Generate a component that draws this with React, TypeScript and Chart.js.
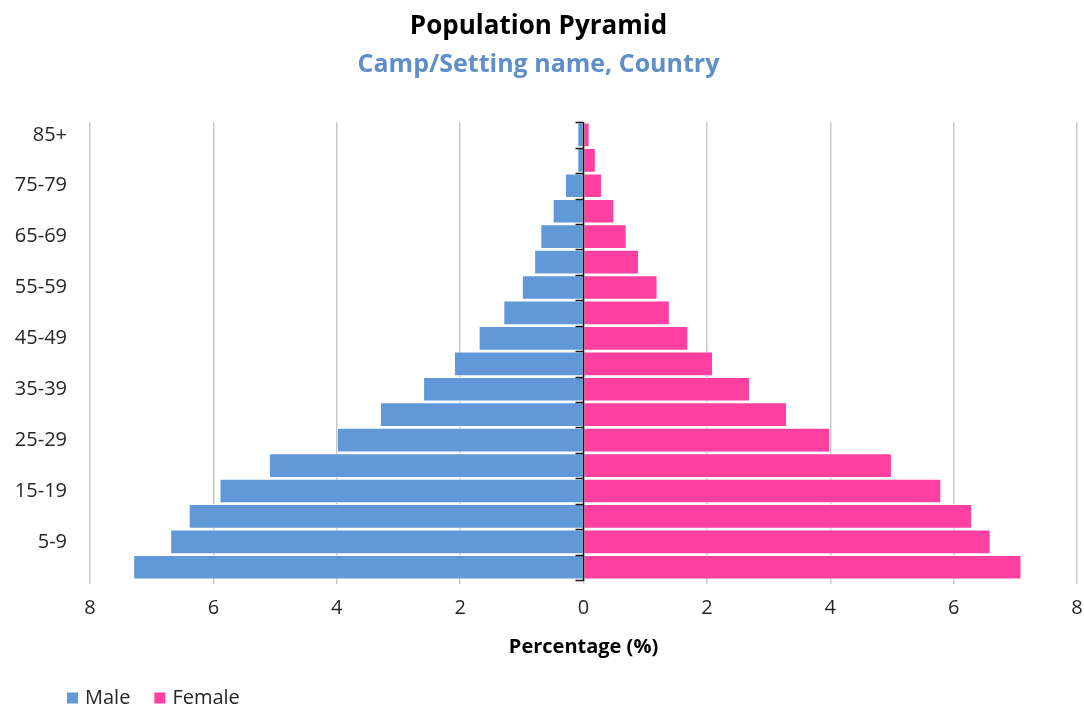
import React, { useEffect, useRef } from "react";
import { Chart, registerables } from "chart.js";

Chart.register(...registerables);

const ageGroups = ["0-4","5-9","10-14","15-19","20-24","25-29","30-34","35-39","40-44","45-49","50-54","55-59","60-64","65-69","70-74","75-79","80-84","85+"];
const maleValues = [7.3, 6.7, 6.4, 5.9, 5.1, 4.0, 3.3, 2.6, 2.1, 1.7, 1.3, 1.0, 0.8, 0.7, 0.5, 0.3, 0.1, 0.1];
const femaleValues = [7.1, 6.6, 6.3, 5.8, 5.0, 4.0, 3.3, 2.7, 2.1, 1.7, 1.4, 1.2, 0.9, 0.7, 0.5, 0.3, 0.2, 0.1];
const xMin = -8;
const xMax = 8;
const xStep = 2;

const FONT = "'Open Sans', 'Noto Sans', sans-serif";
const maleColor = "#6198D8";
const femaleColor = "#FF40A0";

const centerAxisPlugin = {
  id: "centerAxis",
  afterDatasetsDraw(chart: any) {
    const { ctx, chartArea, scales } = chart;
    const x0 = scales.x.getPixelForValue(0);
    const n = ageGroups.length;
    const step = (chartArea.bottom - chartArea.top) / n;
    ctx.save();
    ctx.strokeStyle = "#1a1a1a";
    ctx.lineWidth = 1.5;
    ctx.beginPath();
    ctx.moveTo(x0, chartArea.top);
    ctx.lineTo(x0, chartArea.bottom + 1);
    for (let i = 0; i <= n; i++) {
      const y = Math.round(chartArea.top + i * step) + 0.5;
      ctx.moveTo(x0 - 8, y);
      ctx.lineTo(x0, y);
    }
    ctx.stroke();
    ctx.restore();
  },
};

const bottomLegendPlugin = {
  id: "bottomLegend",
  afterDraw(chart: any) {
    const { ctx } = chart;
    const y = 698;
    let x = 67;
    ctx.save();
    ctx.font = `20px ${FONT}`;
    ctx.textBaseline = "middle";
    ctx.textAlign = "left";
    chart.data.datasets.forEach((ds: any) => {
      ctx.fillStyle = ds.backgroundColor;
      ctx.fillRect(x, y - 5.5, 11, 11);
      x += 11 + 7;
      ctx.fillStyle = "#262626";
      ctx.fillText(ds.label, x, y);
      x += ctx.measureText(ds.label).width + 24;
    });
    ctx.restore();
  },
};

export default function App() {
  const canvasRef = useRef<HTMLCanvasElement | null>(null);

  useEffect(() => {
    if (!canvasRef.current) return;
    const chart = new Chart(canvasRef.current, {
      type: "bar",
      data: {
        labels: ageGroups,
        datasets: [
          {
            label: "Male",
            data: maleValues.map((v) => -v),
            backgroundColor: maleColor,
            borderColor: "rgba(255,255,255,0.75)",
            borderWidth: 1,
            barPercentage: 0.97,
            categoryPercentage: 1,
          },
          {
            label: "Female",
            data: femaleValues,
            backgroundColor: femaleColor,
            borderColor: "rgba(255,255,255,0.75)",
            borderWidth: 1,
            barPercentage: 0.97,
            categoryPercentage: 1,
          },
        ],
      },
      options: {
        indexAxis: "y",
        animation: false,
        responsive: true,
        maintainAspectRatio: false,
        layout: { padding: { left: 0, right: 7, top: 0, bottom: 43 } },
        scales: {
          x: {
            stacked: true,
            min: xMin,
            max: xMax,
            ticks: {
              stepSize: xStep,
              padding: 12,
              color: "#262626",
              font: { family: FONT, size: 20 },
              callback: (v: any) => String(Math.abs(Number(v))),
            },
            grid: {
              color: "#C8C8C8",
              lineWidth: 1.5,
              tickLength: 4,
            },
            border: { display: false },
            title: {
              display: true,
              text: "Percentage (%)",
              color: "#000",
              font: { family: FONT, size: 20, weight: "bold" },
              padding: { top: 4, bottom: 4 },
            },
            afterFit: (scale: any) => {
              scale.height = 83;
              scale.paddingLeft = 0;
              scale.paddingRight = 0;
            },
          },
          y: {
            stacked: true,
            reverse: true,
            grid: { display: false },
            border: { display: false },
            ticks: {
              autoSkip: false,
              padding: 15,
              color: "#262626",
              font: { family: FONT, size: 20 },
              callback: (_v: any, i: number) => (i % 2 === 1 ? ageGroups[i] : ""),
            },
            afterFit: (scale: any) => {
              scale.width = 90;
              scale.paddingTop = 0;
              scale.paddingBottom = 0;
            },
          },
        },
        plugins: {
          title: {
            display: true,
            text: "Population Pyramid",
            color: "#000",
            font: { family: FONT, size: 26, weight: "bold" },
            padding: { top: 11, bottom: 8 },
          },
          subtitle: {
            display: true,
            text: "Camp/Setting name, Country",
            color: "#5F8FC9",
            font: { family: FONT, size: 25, weight: "bold" },
            padding: { top: 0, bottom: 42 },
          },
          legend: { display: false },
          tooltip: { enabled: false },
        },
      },
      plugins: [centerAxisPlugin, bottomLegendPlugin],
    });
    return () => chart.destroy();
  }, []);

  return (
    <div style={{ position: "absolute", left: 0, top: 0, width: 1084, height: 706, background: "#fff" }}>
      <canvas ref={canvasRef} />
    </div>
  );
}
